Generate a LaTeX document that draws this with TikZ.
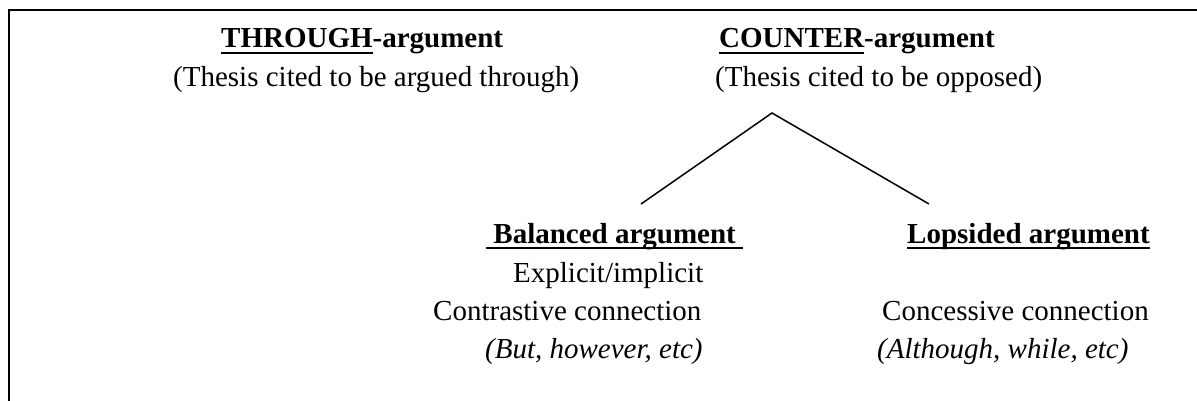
\documentclass[tikz,border=0pt]{standalone}
\usepackage{fontspec}
\setmainfont{Liberation Serif}
\newcommand\myul[1]{\setbox0\hbox{#1}\rlap{\rule[-5.6pt]{\wd0}{1.7pt}}\box0}
\begin{document}
\begin{tikzpicture}[x=1pt,y=-1pt,
  txt/.style={inner sep=0pt, anchor=base west, font=\fontsize{29}{35}\selectfont},
  bt/.style={txt, font=\fontsize{29}{35}\selectfont\bfseries},
  it/.style={txt, font=\fontsize{29}{35}\selectfont\itshape},
  frame/.style={line width=2pt},
  link/.style={line width=1.5pt}]
\useasboundingbox (0,0) rectangle (1197,401);
\draw[frame] (9.3,401) -- (9.3,10.3) -- (1197,10.3);
\node[bt] (through) at (221,48) {\myul{THROUGH}-argument};
\node[txt] (throughsub) at (173,87) {(Thesis cited to be argued through)};
\node[bt] (counter) at (719,48) {\myul{COUNTER}-argument};
\node[txt] (countersub) at (715,87) {(Thesis cited to be opposed)};
\node[bt] (balanced) at (486,243) {\myul{\ Balanced argument\ }};
\node[txt] (explicit) at (513,282) {Explicit/implicit};
\node[txt] (contrastive) at (433,320) {Contrastive connection};
\node[it] (but) at (485,358) {(But, however, etc)};
\node[bt] (lopsided) at (907,243) {\myul{Lopsided argument}};
\node[txt] (concessive) at (882,320) {Concessive connection};
\node[it] (although) at (877,358) {(Although, while, etc)};
\coordinate (apex) at (772,113);
\coordinate (lend) at (641,204);
\coordinate (rend) at (929,204);
\draw[link] (lend) -- (apex) -- (rend);
\end{tikzpicture}
\end{document}
